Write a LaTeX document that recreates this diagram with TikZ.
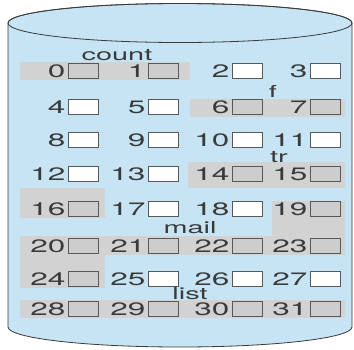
\documentclass[tikz,border=0pt]{standalone}
\usepackage{fontspec}
\usepackage{tikz}
\usetikzlibrary{positioning}
\newfontfamily\blkfont[FakeStretch=1.75]{TeX Gyre Heros}
\definecolor{diskblue}{HTML}{C6E4F4}
\definecolor{usedgray}{HTML}{D2D2D2}
\definecolor{boxgray}{HTML}{CDCDCD}
\definecolor{inkgray}{HTML}{3A3A3A}

\begin{document}
\begin{tikzpicture}[
    x=1pt, y=-1pt,
    free/.style={draw=inkgray!85, line width=0.8pt, fill=white, minimum width=30pt, minimum height=15pt, inner sep=0pt},
    used/.style={free, fill=boxgray},
    num/.style={inner sep=0pt, text=inkgray, font=\blkfont\fontsize{18}{18}\selectfont},
    fname/.style={num, font=\blkfont\fontsize{16.5}{16.5}\selectfont},
    band/.style={fill=usedgray}
  ]
    \useasboundingbox (0,0) rectangle (354,349);
    % the disk
    \draw[fill=diskblue, draw=inkgray, line width=0.8pt] (8,23) -- (8,327)
      arc[start angle=180, end angle=0, x radius=172, y radius=20] -- (352,23)
      arc[start angle=0, end angle=-180, x radius=172, y radius=19.5] -- cycle;
    \draw[draw=inkgray, line width=0.8pt] (180,23) ellipse[x radius=172, y radius=19.5];

    % files
    \fill[band] (20,62) rectangle (190,80);
    \fill[band] (190,99) rectangle (345,117);
    \fill[band] (188,162) rectangle (345,188);
    \fill[band] (20,188) rectangle (105,218);
    \fill[band] (272,201) rectangle (345,236);
    \fill[band] (20,236) rectangle (345,255);
    \fill[band] (20,255) rectangle (105,288);
    \fill[band] (20,300) rectangle (345,318);

    \foreach \k/\st in {0/used,1/used,2/free,3/free,4/free,5/free,6/used,7/used,
                        8/free,9/free,10/free,11/free,12/free,13/free,14/used,15/used,
                        16/used,17/free,18/free,19/used,20/used,21/used,22/used,23/used,
                        24/used,25/free,26/free,27/free,28/used,29/used,30/used,31/used} {
      \pgfmathtruncatemacro\r{int(\k/4)}
      \pgfmathtruncatemacro\c{mod(\k,4)}
      \pgfmathsetmacro\bx{{83,163,247,325}[\c]}
      \pgfmathsetmacro\by{{71,107,140,174,209,246,279,309}[\r]}
      \node[\st] (b\k) at (\bx,\by) {};
      \node[num, left=2pt of b\k] (n\k) {\k};
    }

    \node[fname] (count) at (117,55) {count};
    \node[fname] (f) at (273,91) {f};
    \node[fname] (tr) at (279,157) {tr};
    \node[fname] (mail) at (190,228) {mail};
    \node[fname] (list) at (190,294) {list};
  \end{tikzpicture}
\end{document}
